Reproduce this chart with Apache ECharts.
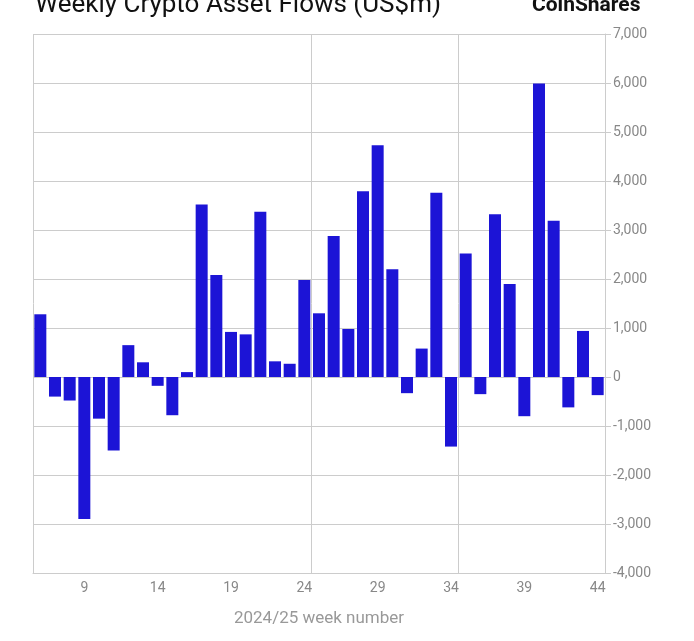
<!DOCTYPE html>
<html>
<head>
<meta charset="UTF-8">
<script src="https://cdn.jsdelivr.net/npm/echarts@6/dist/echarts.min.js"></script>
<style>html,body{margin:0;background:#fff}#main{width:694px;height:641px}</style>
</head>
<body>
<div id="main"></div>
<script>
var weeks = [];
for (var w = 6; w <= 44; w++) weeks.push(String(w));
var flows = [1280, -400, -480, -2900, -850, -1500, 650, 300, -180, -780, 100, 3520, 2080, 920, 870, 3370, 320, 270, 1980, 1300, 2880, 980, 3790, 4730, 2200, -330, 580, 3760, -1420, 2520, -350, 3320, 1900, -800, 5990, 3190, -620, 940, -370];
var splitAt = [0, 19, 29];

var chart = echarts.init(document.getElementById('main'));
chart.setOption({
  animation: false,
  textStyle: {fontFamily: 'Roboto, sans-serif'},
  title: [
    {text: 'Weekly Crypto Asset Flows (US$m)', left: 30, top: -13, textStyle: {fontSize: 26, fontWeight: 'normal', color: '#111'}},
    {text: 'CoinShares', left: 527, top: -10, textStyle: {fontSize: 21, fontWeight: 'bold', color: '#111'}}
  ],
  grid: {left: 33, right: 89, top: 34, bottom: 68},
  xAxis: {
    type: 'category', data: weeks,
    name: '2024/25 week number', nameLocation: 'middle', nameGap: 37,
    nameTextStyle: {color: '#999', fontSize: 17},
    axisLine: {show: true, onZero: false, lineStyle: {color: '#ccc'}},
    axisTick: {show: false},
    axisLabel: {color: '#888', fontSize: 14, interval: function (i) { return (i - 3) % 5 === 0; }},
    splitLine: {show: true, interval: function (i) { return splitAt.indexOf(i) >= 0; }, lineStyle: {color: '#ccc'}}
  },
  yAxis: {
    type: 'value', position: 'right', min: -4000, max: 7000, interval: 1000,
    axisLine: {show: true, lineStyle: {color: '#ccc'}},
    axisTick: {show: true, length: 6, lineStyle: {color: '#ccc'}},
    axisLabel: {color: '#888', fontSize: 14, formatter: function (v) { return v.toLocaleString('en-US'); }},
    splitLine: {lineStyle: {color: '#ccc'}}
  },
  series: [{type: 'bar', data: flows, barWidth: 12, itemStyle: {color: '#1c14d6'}}]
});
</script>
</body>
</html>
